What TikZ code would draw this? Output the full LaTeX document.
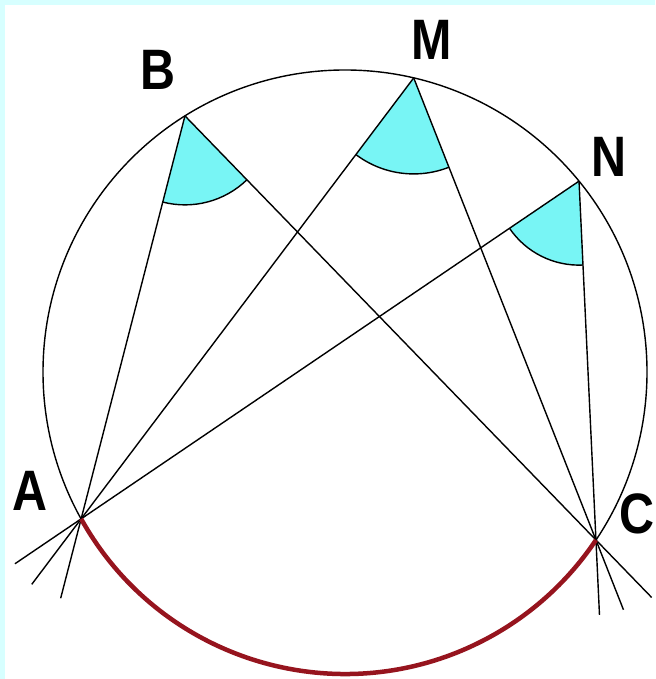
\documentclass[tikz,border=0pt]{standalone}
\usepackage{fontspec}
\newfontfamily\lblfont{Liberation Sans}
\usetikzlibrary{calc}
\definecolor{sectorcyan}{RGB}{120,245,245}
\definecolor{arcred}{RGB}{150,20,30}
\definecolor{framecyan}{RGB}{215,255,255}
\begin{document}
\begin{tikzpicture}[x=1pt,y=1pt,
  lbl/.style={font=\lblfont\bfseries\fontsize{57}{57}\selectfont, inner sep=0pt},
  thinline/.style={line width=1.4pt, black},
  sector/.style={fill=sectorcyan},
  sectoredge/.style={line width=1.4pt, black},
  redarc/.style={arcred, line width=4.5pt}]
\useasboundingbox (0,0) rectangle (655,679);
\fill[white] (0,0) rectangle (655,679);
\fill[framecyan] (0,0) rectangle (5,679);
\fill[framecyan] (0,674) rectangle (655,679);

\coordinate (O) at (345,307);
\coordinate (A) at ($(O)+(209.1:302)$);
\coordinate (C) at ($(O)+(-33.8:302)$);
\coordinate (B) at ($(O)+(122.0:302)$);
\coordinate (M) at ($(O)+(76.85:302)$);
\coordinate (N) at ($(O)+(39.2:302)$);

% angle sectors
\fill[sector] (B) -- ($(B)+(255.5:89)$) arc[start angle=255.5,end angle=314.1,radius=89] -- cycle;
\draw[sectoredge] ($(B)+(255.5:89)$) arc[start angle=255.5,end angle=314.1,radius=89];
\fill[sector] (M) -- ($(M)+(233.0:96)$) arc[start angle=233.0,end angle=291.5,radius=96] -- cycle;
\draw[sectoredge] ($(M)+(233.0:96)$) arc[start angle=233.0,end angle=291.5,radius=96];
\fill[sector] (N) -- ($(N)+(214.1:84)$) arc[start angle=214.1,end angle=272.7,radius=84] -- cycle;
\draw[sectoredge] ($(N)+(214.1:84)$) arc[start angle=214.1,end angle=272.7,radius=84];

% circle
\draw[thinline] (O) circle[radius=302];

% chords with extensions past A and C
\draw[thinline] ($(A)!-82pt!(B)$) -- (B);
\draw[thinline] ($(A)!-82pt!(M)$) -- (M);
\draw[thinline] ($(A)!-80pt!(N)$) -- (N);
\draw[thinline] ($(C)!-80pt!(B)$) -- (B);
\draw[thinline] ($(C)!-75pt!(M)$) -- (M);
\draw[thinline] ($(C)!-75pt!(N)$) -- (N);

% red arc AC
\draw[redarc] (A) arc[start angle=209.1,end angle=326.2,radius=302];

% labels
\node[lbl] (lA) at (30,188) {\scalebox{0.85}[1]{A}};
\node[lbl] (lB) at (158,609) {\scalebox{0.85}[1]{B}};
\node[lbl] (lM) at (432,639) {\scalebox{0.85}[1]{M}};
\node[lbl] (lN) at (609,522) {\scalebox{0.85}[1]{N}};
\node[lbl] (lC) at (637,165) {\scalebox{0.85}[1]{C}};
\end{tikzpicture}
\end{document}
